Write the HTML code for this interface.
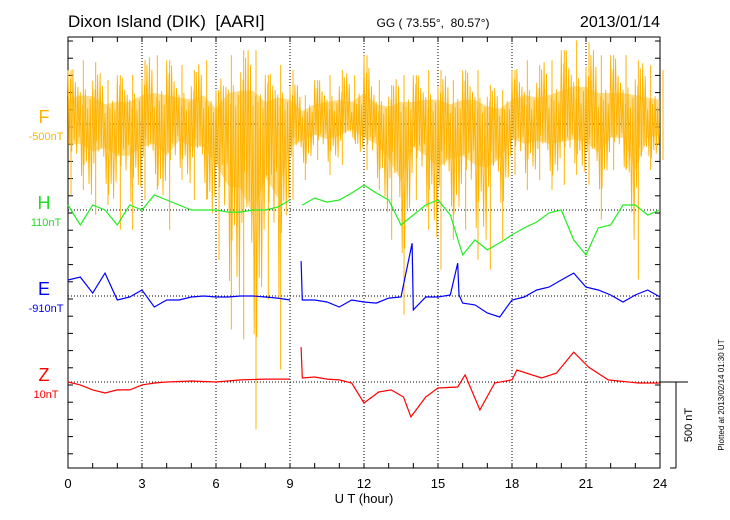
<!DOCTYPE html>
<html><head><meta charset="utf-8"><style>
body{margin:0;background:#fff}
svg{display:block;font-family:"Liberation Sans",sans-serif}
text{white-space:pre}
</style></head><body>
<svg id="c" width="730" height="520" viewBox="0 0 730 520">
<rect width="730" height="520" fill="#fff"/>
<text x="68" y="27" font-size="17">Dixon Island (DIK)  [AARI]</text>
<text x="433" y="27" font-size="12" text-anchor="middle">GG ( 73.55°,  80.57°)</text>
<text x="660" y="27" font-size="16" text-anchor="end">2013/01/14</text>
<g id="plot"></g>
</svg>
<script>
const tickHours=[0,3,6,9,12,15,18,21,24];
const tickLabels=["0","3","6","9","12","15","18","21","24"];
const fHours=[0,0.5,1,1.5,2,2.5,3,3.5,4,4.5,5,5.5,6,6.5,7,7.5,8,8.5,9,9.5,10,10.5,11,11.5,12,12.5,13,13.5,14,14.5,15,15.5,16,16.5,17,17.5,18,18.5,19,19.5,20,20.5,21,21.5,22,22.5,23,23.5,24];
const fHigh=[313,371,360,255,284,284,371,400,371,342,313,371,197,400,429,429,284,342,313,168,255,284,313,284,400,255,226,284,284,313,313,255,313,313,226,197,313,371,342,371,429,487,476,400,400,400,371,342,313];
const fLow=[-412,-383,-528,-470,-615,-615,-441,-383,-615,-325,-441,-441,-789,-1195,-1253,-1775,-1021,-1427,-441,-325,-209,-296,-238,-93,-267,-383,-673,-1108,-441,-615,-847,-673,-615,-789,-847,-673,-296,-383,-325,-383,-354,-296,-354,-557,-267,-267,-905,-267,-209];
const hHours=[0,0.5,1,1.5,2,2.5,3,3.5,4,4.5,5,5.5,6,6.5,7,7.5,8,8.5,9,9.3,9.5,10,10.5,11,11.5,12,12.5,13,13.5,14,14.5,15,15.5,16,16.5,17,17.5,18,18.5,19,19.5,20,20.5,21,21.5,22,22.5,23,23.5,24];
const hVals=[29,-87,29,0,-87,29,0,87,58,29,0,0,0,-12,-12,0,0,17,58,null,29,70,46,58,99,145,99,58,-87,-29,29,58,-29,-261,-174,-232,-191,-145,-104,-70,-17,0,-174,-261,-104,-87,29,29,-29,0];
const eHours=[0,0.5,1,1.5,2,2.5,3,3.5,4,4.5,5,5.5,6,6.5,7,7.5,8,8.5,9,9.3,9.45,9.5,10,10.5,11,11.5,12,12.5,13,13.5,13.95,14,14.5,15,15.5,15.8,15.85,16,16.5,17,17.5,18,18.5,19,19.5,20,20.5,21,21.5,22,22.5,23,23.5,24];
const eVals=[93,110,17,133,-23,-6,35,-64,-23,-23,-6,0,-6,-6,0,0,-6,-12,-23,null,203,-23,-23,-35,-64,-23,-35,-41,-12,-6,307,-81,-6,-6,6,191,6,-41,-52,-99,-122,-23,-6,35,52,93,133,52,35,6,-35,6,35,-6];
const zHours=[0,0.5,1,1.5,2,2.5,3,3.5,4,5,6,7,8,9,9.3,9.45,9.5,10,10.5,11,11.5,12,12.6,13.1,13.6,13.9,14.5,15,15.8,16.1,16.7,17.3,18,18.2,19.2,19.8,20.5,21.1,21.9,23.1,24];
const zVals=[0,-17,-46,-64,-46,-46,-17,-6,0,6,0,12,17,17,null,203,23,29,17,12,-6,-122,-58,-46,-87,-203,-87,-35,-29,41,-162,-6,12,70,23,52,174,87,12,-6,-6];

const NS="http://www.w3.org/2000/svg";
const g=document.getElementById('plot');
const X0=68,X1=660,Y0=37,Y1=468,PX=86/500;
const xs=h=>X0+h*(X1-X0)/24;
const ys=(base,v)=>base-v*PX;
function el(tag,attrs){const e=document.createElementNS(NS,tag);for(const k in attrs)e.setAttribute(k,attrs[k]);g.appendChild(e);return e;}

let r=el('rect',{x:X0,y:Y0,width:X1-X0,height:Y1-Y0,fill:'none',stroke:'#000','stroke-width':1});


tickHours.forEach((h,i)=>{
  if(i>0&&i<tickHours.length-1){
    const l=el('line',{x1:xs(h),x2:xs(h),y1:Y0,y2:Y1,stroke:'#000','stroke-dasharray':'1,2','stroke-width':1});
    
    
  }
  const t=el('text',{x:xs(h),y:488,'font-size':13,'text-anchor':'middle'});
  t.textContent=tickLabels[i];
  
  
});
for(let h=0;h<=24;h++){
  el('line',{x1:xs(h),x2:xs(h),y1:Y0,y2:Y0+5,stroke:'#000'});
  el('line',{x1:xs(h),x2:xs(h),y1:Y1,y2:Y1-5,stroke:'#000'});
}
for(let y=Y0+4;y<Y1;y+=17.2){
  el('line',{x1:X0,x2:X0+5,y1:y,y2:y,stroke:'#000'});
  el('line',{x1:X1,x2:X1-5,y1:y,y2:y,stroke:'#000'});
}
const bases=[124,210,296,382];
bases.forEach(b=>{
  const l=el('line',{x1:X0,x2:X1,y1:b,y2:b,stroke:'#000','stroke-dasharray':'1,2'});
  
  
});
let xt=el('text',{x:364,y:503,'font-size':13,'text-anchor':'middle'});xt.textContent='U T (hour)';



const labs=[['F','-500nT','#ffb300',124],['H','110nT','#22dd22',210],['E','-910nT','#0000ff',296],['Z','10nT','#ff0000',382]];
labs.forEach(a=>{
  const t=el('text',{x:44,y:a[3]-1,'font-size':18,'text-anchor':'middle',fill:a[2]});t.textContent=a[0];
  
  
  const u=el('text',{x:46,y:a[3]+16,'font-size':11,'text-anchor':'middle',fill:a[2]});u.textContent=a[1];
  
  
});

const FC='#ffb300';
let core='';
for(let i=0;i<fHours.length;i++)core+=(i?'L':'M')+xs(fHours[i])+','+ys(124,fHigh[i]*0.45);
for(let i=fHours.length-1;i>=0;i--)core+='L'+xs(fHours[i])+','+ys(124,fLow[i]*0.3);
let fc=el('path',{d:core+'Z',fill:FC,opacity:0.45});


const pat=[1,0.35,0.8,0.5,0.95,0.3,0.7,0.55,0.6,0.25,0.9,0.4];
let zz='';
for(let i=0;i<fHours.length-1;i++){
  const n=10;
  for(let k=0;k<n;k++){
    const t=k/n,h=fHours[i]+t*(fHours[i+1]-fHours[i]);
    const hi=fHigh[i]*(1-t)+fHigh[i+1]*t,lo=fLow[i]*(1-t)+fLow[i+1]*t;
    const f=pat[(i*3+k)%pat.length];
    const v=k%2?lo*f*0.8:hi*f;
    zz+=(zz?'L':'M')+xs(h).toFixed(1)+','+ys(124,v).toFixed(1);
  }
}
let fz=el('path',{d:zz,fill:'none',stroke:FC,'stroke-width':0.9});


fHours.forEach((h,i)=>{
  const l=el('line',{x1:xs(h)+3,x2:xs(h)+3,y1:ys(124,fHigh[i]),y2:ys(124,fLow[i]),stroke:FC,'stroke-width':1});
  
  
});

function line(hours,vals,base,color,name){
  let d='',pen=false;
  hours.forEach((h,i)=>{
    if(vals[i]===null){pen=false;return;}
    d+=(pen?'L':'M')+xs(h).toFixed(1)+','+ys(base,vals[i]).toFixed(1);pen=true;
  });
  const p=el('path',{d:d,fill:'none',stroke:color,'stroke-width':1.2});
  
  
}
line(hHours,hVals,210,'#22ee22','h-series');
line(eHours,eVals,296,'#0000ff','e-series');
line(zHours,zVals,382,'#ff0000','z-series');

el('line',{x1:X1,x2:688,y1:382,y2:382,stroke:'#000'});
let sb=el('line',{x1:676,x2:676,y1:382,y2:468,stroke:'#000'});


el('line',{x1:670,x2:676,y1:468,y2:468,stroke:'#000'});
let st=el('text',{x:0,y:0,'font-size':11,'text-anchor':'middle',transform:'translate(692,425) rotate(-90)'});st.textContent='500 nT';


let pt=el('text',{x:0,y:0,'font-size':8,'text-anchor':'middle',transform:'translate(724,395) rotate(-90)'});pt.textContent='Plotted at 2013/02/14 01:30 UT';


</script>
</body></html>
